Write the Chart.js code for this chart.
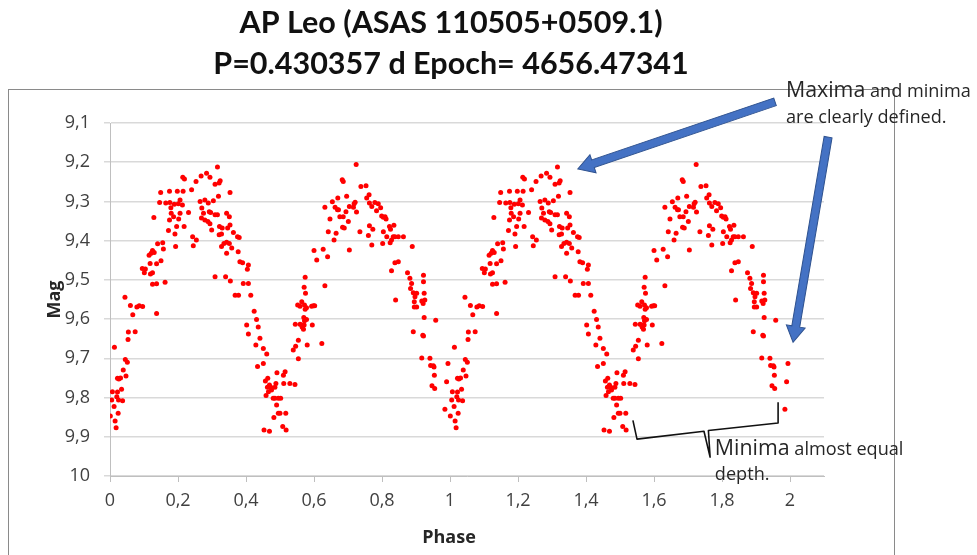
<!DOCTYPE html>
<html>
<head>
<meta charset="utf-8">
<script src="https://cdn.jsdelivr.net/npm/chart.js@4.4.1/dist/chart.umd.min.js"></script>
<style>
html,body{margin:0;padding:0;background:#fff;}
#wrap{width:977px;height:555px;}
</style>
</head>
<body>
<div id="wrap"><canvas id="c" width="977" height="555"></canvas></div>
<script>
// ---------- DATA ----------
const titleLines = ["AP Leo (ASAS 110505+0509.1)", "P=0.430357 d Epoch= 4656.47341"];
const xAxisTitle = "Phase";
const yAxisTitle = "Mag";
const xTickRange = [0, 2.1, 0.2];   // min, max, step
const yTickRange = [9.1, 10, 0.1];

// phase (one cycle, 0..1) and magnitude
const phaseCycle = [
 0.316,0.284,0.294,0.268,0.214,0.219,0.253,0.324,0.321,0.309,
 0.240,0.149,0.175,0.198,0.215,0.353,0.146,0.164,0.176,0.189,
 0.201,0.213,0.206,0.265,0.279,0.289,0.304,0.319,0.179,0.180,
 0.187,0.206,0.202,0.231,0.270,0.275,0.292,0.296,0.309,0.316,
 0.343,0.351,0.269,0.279,0.288,0.294,0.175,0.196,0.191,0.218,
 0.172,0.243,0.254,0.299,0.322,0.330,0.346,0.353,0.321,0.328,
 0.363,0.375,0.380,0.140,0.155,0.157,0.121,0.125,0.130,0.193,
 0.245,0.335,0.343,0.351,0.328,0.358,0.343,0.377,0.382,0.390,
 0.115,0.118,0.137,0.150,0.095,0.101,0.104,0.119,0.125,0.309,
 0.340,0.354,0.404,0.407,0.392,0.407,0.378,0.368,0.414,0.125,
 0.137,0.162,0.044,0.060,0.067,0.079,0.086,0.096,0.424,0.431,
 0.129,0.137,
 0.001,0.005,0.007,0.012,0.015,0.018,0.020,0.022,0.024,0.025,
 0.013,0.022,0.026,0.031,0.034,0.037,0.039,0.045,0.047,0.051,
 0.053,0.054,0.074,
 0.402,0.407,0.436,0.429,0.441,0.451,0.434,0.451,0.461,0.457,
 0.464,0.469,0.463,0.473,0.466,0.475,0.459,0.485,0.488,0.491,
 0.510,0.515,0.480,0.485,0.495,0.502,0.490,0.500,0.482,0.495,
 0.517,0.453,0.469,0.508,0.518,0.511,0.529,0.544,
 0.554,0.539,0.546,0.554,0.545,0.559,0.564,0.571,0.572,0.578,
 0.570,0.569,0.565,0.580,0.595,0.598,0.602,0.623,0.559,0.578,
 0.574,0.552,
 0.892,0.895,0.902,0.917,0.921,0.924,0.917,0.920,0.922,0.941,
 0.943,0.951,0.953,0.954,0.947,0.955,0.958,0.985,0.990,0.994,
 0.724,0.683,0.686,0.738,0.753,0.670,0.632,0.654,0.662,0.696,
 0.704,0.716,0.718,0.721,0.725,0.755,0.762,0.770,0.763,0.779,
 0.789,0.796,0.784,0.799,0.804,0.809,0.812,0.669,0.672,0.676,
 0.686,0.694,0.701,0.684,0.689,0.665,0.647,0.642,0.659,0.704,
 0.735,0.760,0.770,0.763,0.773,0.804,0.802,0.822,0.825,0.833,
 0.838,0.814,0.828,0.835,0.848,0.863,0.824,0.828,0.838,0.848,
 0.889,0.875,0.882,0.887,0.884,0.892,0.897,0.895,0.922,0.922,
 0.924,0.926,0.902,0.840,
 0.574,0.571,0.575,0.564,0.572,0.593,0.600,0.608,0.632,0.627,
 0.640
];
const magCycle = [
 9.212,9.228,9.238,9.235,9.238,9.243,9.249,9.247,9.253,9.256,
 9.270,9.277,9.274,9.274,9.274,9.277,9.303,9.304,9.303,9.307,
 9.306,9.309,9.296,9.300,9.296,9.304,9.298,9.287,9.316,9.330,
 9.339,9.330,9.345,9.328,9.317,9.330,9.326,9.328,9.334,9.334,
 9.330,9.339,9.342,9.347,9.351,9.357,9.347,9.364,9.383,9.364,
 9.374,9.390,9.398,9.373,9.364,9.368,9.368,9.360,9.385,9.383,
 9.379,9.390,9.392,9.408,9.405,9.421,9.432,9.425,9.430,9.415,
 9.413,9.407,9.404,9.407,9.415,9.419,9.432,9.428,9.454,9.456,
 9.437,9.458,9.459,9.451,9.471,9.482,9.472,9.485,9.482,9.492,
 9.492,9.503,9.473,9.462,9.509,9.509,9.539,9.539,9.539,9.511,
 9.510,9.506,9.544,9.565,9.589,9.569,9.566,9.568,9.580,9.601,
 9.341,9.586,
 9.847,9.806,9.785,9.823,9.860,9.877,9.798,9.786,9.840,9.806,
 9.672,9.751,9.753,9.750,9.779,9.808,9.730,9.703,9.745,9.710,
 9.652,9.633,9.632,
 9.615,9.638,9.620,9.666,9.649,9.675,9.721,9.713,9.689,9.758,
 9.751,9.768,9.774,9.774,9.785,9.781,9.795,9.774,9.764,9.737,
 9.743,9.734,9.802,9.802,9.802,9.802,9.819,9.840,9.851,9.840,
 9.840,9.883,9.886,9.874,9.883,9.764,9.764,9.767,
 9.701,9.679,9.669,9.654,9.613,9.613,9.615,9.615,9.604,9.601,
 9.596,9.626,9.620,9.666,9.615,9.566,9.566,9.662,9.567,9.571,
 9.575,9.564,
 9.632,9.569,9.569,9.554,9.560,9.596,9.699,9.641,9.643,9.700,
 9.718,9.719,9.722,9.743,9.770,9.777,9.603,9.830,9.760,9.713,
 9.206,9.245,9.249,9.262,9.260,9.291,9.315,9.301,9.315,9.287,
 9.313,9.315,9.306,9.302,9.327,9.291,9.283,9.313,9.304,9.303,
 9.306,9.316,9.324,9.337,9.340,9.339,9.345,9.321,9.321,9.339,
 9.339,9.326,9.351,9.366,9.368,9.381,9.345,9.377,9.398,9.424,
 9.377,9.387,9.411,9.362,9.371,9.377,9.407,9.364,9.371,9.390,
 9.390,9.390,9.398,9.361,9.390,9.390,9.405,9.477,9.456,9.454,
 9.415,9.482,9.496,9.509,9.522,9.533,9.543,9.556,9.488,9.505,
 9.534,9.551,9.534,9.551,
 9.493,9.519,9.534,9.556,9.564,9.567,9.425,9.449,9.515,9.422,
 9.441
];
// the phase diagram is plotted over two cycles (phase and phase + 1)
const cyclesShown = [0, 1];

// annotation anchor points in data units (phase, mag)
const arrowMaxima = [[1.956, 9.046], [1.376, 9.217]];
const arrowMinima = [[2.112, 9.136], [2.009, 9.659]];
const bracePoints = [[1.538, 9.858], [1.550, 9.906], [1.747, 9.886], [1.765, 9.952],
                     [1.760, 9.884], [1.965, 9.865], [1.965, 9.812]];
const noteTop = [["Maxima", 1.18], [" and minima", 1]];
const noteTop2 = "are clearly defined.";
const noteBottom = [["Minima", 1.18], [" almost equal", 1]];
const noteBottom2 = "depth.";

// ---------- BUILD ----------
const points = [];
cyclesShown.forEach(c => {
  phaseCycle.forEach((p, i) => points.push({x: p + c, y: magCycle[i]}));
});

const FONT = "'Open Sans', 'DejaVu Sans', sans-serif";
const TFONT = "Lato, 'Open Sans', sans-serif";
const fmt = v => {
  const s = (Math.round(v * 10) / 10).toString();
  return s.replace('.', ',');
};

function drawArrow(ctx, x1, y1, x2, y2, sw, hw, hl) {
  const a = Math.atan2(y2 - y1, x2 - x1);
  const L = Math.hypot(x2 - x1, y2 - y1);
  ctx.save();
  ctx.translate(x1, y1);
  ctx.rotate(a);
  ctx.beginPath();
  ctx.moveTo(0, -sw / 2);
  ctx.lineTo(L - hl, -sw / 2);
  ctx.lineTo(L - hl, -hw / 2);
  ctx.lineTo(L, 0);
  ctx.lineTo(L - hl, hw / 2);
  ctx.lineTo(L - hl, sw / 2);
  ctx.lineTo(0, sw / 2);
  ctx.closePath();
  ctx.fillStyle = '#4472C4';
  ctx.fill();
  ctx.lineWidth = 1;
  ctx.strokeStyle = '#2F528F';
  ctx.stroke();
  ctx.restore();
}

function partsWidth(ctx, parts, base, weight, fam) {
  let w = 0;
  parts.forEach(([t, r]) => { ctx.font = `${weight} ${base * r}px ${fam}`; w += ctx.measureText(t).width; });
  return w;
}
function drawParts(ctx, parts, x, y, base, weight, fam) {
  let cx = x;
  parts.forEach(([t, r]) => {
    ctx.font = `${weight} ${base * r}px ${fam}`;
    ctx.fillText(t, cx, y);
    cx += ctx.measureText(t).width;
  });
}
function fitBase(ctx, parts, targetW, weight, fam) {
  return 20 * targetW / partsWidth(ctx, parts, 20, weight, fam);
}

const decor = {
  id: 'decor',
  beforeDraw(chart) {
    const ctx = chart.ctx;
    ctx.save();
    ctx.fillStyle = '#fff';
    ctx.fillRect(0, 0, chart.width, chart.height);
    ctx.strokeStyle = '#8a8a8a';
    ctx.lineWidth = 1;
    ctx.strokeRect(8.5, 89.5, 886, 480);
    ctx.restore();
  },
  afterDraw(chart) {
    const {ctx, scales: {x, y}} = chart;
    const P = ([a, b]) => [x.getPixelForValue(a), y.getPixelForValue(b)];
    ctx.save();
    ctx.textBaseline = 'alphabetic';
    // title
    ctx.fillStyle = '#111';
    const tb = (fitBase(ctx, [[titleLines[0], 1]], 437, 'bold', TFONT) +
                fitBase(ctx, [[titleLines[1], 1]], 460, 'bold', TFONT)) / 2;
    ctx.textAlign = 'center';
    ctx.font = `bold ${tb}px ${TFONT}`;
    ctx.fillText(titleLines[0], 451, 33);
    ctx.fillText(titleLines[1], 451, 74);
    // x axis title
    ctx.fillStyle = '#262626';
    ctx.font = `bold 18px ${FONT}`;
    ctx.textBaseline = 'middle';
    ctx.fillText(xAxisTitle, 449, 538);
    ctx.textAlign = 'left';
    ctx.textBaseline = 'alphabetic';

    // arrows
    const a1 = P(arrowMaxima[0]), a2 = P(arrowMaxima[1]);
    drawArrow(ctx, a1[0], a1[1], a2[0], a2[1], 8, 19, 16);
    const b1 = P(arrowMinima[0]), b2 = P(arrowMinima[1]);
    drawArrow(ctx, b1[0], b1[1], b2[0], b2[1], 8, 19, 16);

    // brace
    ctx.beginPath();
    bracePoints.forEach((pt, i) => {
      const [px, py] = P(pt);
      if (i === 0) ctx.moveTo(px, py); else ctx.lineTo(px, py);
    });
    ctx.strokeStyle = '#111';
    ctx.lineWidth = 1.6;
    ctx.lineJoin = 'round';
    ctx.stroke();

    // notes
    ctx.fillStyle = '#262626';
    const nb = fitBase(ctx, noteTop, 185, 'normal', FONT);
    const tp = P([1.988, 9.034]);
    drawParts(ctx, noteTop, tp[0], tp[1], nb, 'normal', FONT);
    drawParts(ctx, [[noteTop2, 1]], tp[0], tp[1] + 26, nb, 'normal', FONT);
    const bp = P([1.779, 9.947]);
    drawParts(ctx, noteBottom, bp[0], bp[1], nb, 'normal', FONT);
    drawParts(ctx, [[noteBottom2, 1]], bp[0], bp[1] + 25, nb, 'normal', FONT);
    ctx.restore();
  }
};

Chart.defaults.font.family = FONT;

new Chart(document.getElementById('c'), {
  type: 'scatter',
  data: {
    datasets: [{
      label: 'AP Leo',
      data: points,
      backgroundColor: '#ff0000',
      borderWidth: 0,
      pointRadius: 2.5,
      pointHoverRadius: 2.5
    }]
  },
  options: {
    responsive: false,
    animation: false,
    devicePixelRatio: 1,
    layout: {padding: {left: 8, top: 123, right: 153, bottom: 0}},
    plugins: {legend: {display: false}, tooltip: {enabled: false}, title: {display: false}},
    scales: {
      x: {
        type: 'linear',
        min: xTickRange[0], max: xTickRange[1],
        afterFit: s => { s.height = 79; },
        ticks: {stepSize: xTickRange[2], includeBounds: false, callback: v => fmt(v),
                color: '#404040', font: {size: 18}, padding: 8, maxRotation: 0, autoSkip: false},
        grid: {drawOnChartArea: false, drawTicks: true, tickLength: 6, color: '#bfbfbf'},
        border: {color: '#bfbfbf', width: 1}
      },
      y: {
        type: 'linear',
        reverse: true,
        min: yTickRange[0], max: yTickRange[1],
        afterFit: s => { s.width = 102; },
        ticks: {stepSize: yTickRange[2], callback: v => fmt(v), color: '#404040',
                font: {size: 18}, padding: 14, autoSkip: false},
        grid: {color: '#d9d9d9', lineWidth: 1.5, tickLength: 6},
        border: {color: '#bfbfbf', width: 1},
        title: {display: true, text: yAxisTitle, color: '#262626',
                font: {size: 18, weight: 'bold'}, padding: {top: 36, bottom: 0}}
      }
    }
  },
  plugins: [decor]
});
</script>
</body>
</html>
